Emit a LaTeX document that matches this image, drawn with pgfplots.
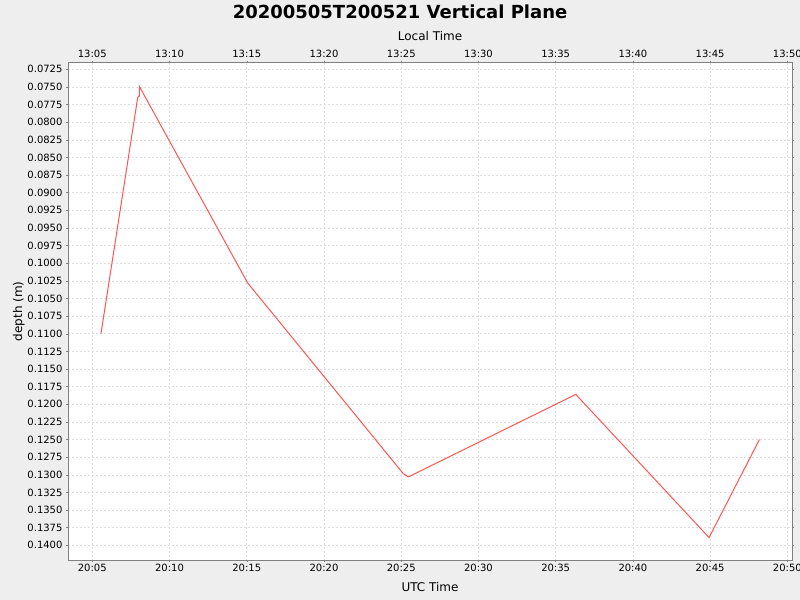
\documentclass[border=0pt]{standalone}
\usepackage{fontspec}
\setmainfont{DejaVu Sans}
\usepackage{pgfplots}
\pgfplotsset{compat=1.18}

\definecolor{bg}{RGB}{238,238,238}
\definecolor{frame}{RGB}{128,128,128}
\definecolor{gridc}{RGB}{222,222,222}
\definecolor{series}{RGB}{255,85,85}

\begin{document}
\begin{tikzpicture}[x=1bp,y=1bp]
  \fill[bg, use as bounding box] (0,0) rectangle (800,600);
  \node[font=\fontsize{18bp}{20bp}\selectfont\bfseries] at (400,588) {20200505T200521 Vertical Plane};

  \pgfplotsset{
    common/.style={
      at={(68bp,40bp)}, anchor=south west,
      scale only axis, width=724bp, height=497.3bp,
      xmin=3.427, xmax=50.30,
      ymin=0.07156, ymax=0.14208, y dir=reverse,
      xtick={5,10,...,50},
      tick align=outside, major tick length=2bp,
      tick style={frame, line width=0.5bp},
      axis line style={frame, line width=0.6bp},
      ticklabel style={font=\fontsize{10bp}{12bp}\selectfont},
      label style={font=\fontsize{12bp}{14bp}\selectfont},
      /pgf/number format/assume math mode=true,
    }
  }

  \begin{axis}[common,
      axis background/.style={fill=white},
      grid=major,
      major grid style={gridc, dash pattern=on 2bp off 2bp, line width=0.6bp},
      xticklabels={20:05,20:10,20:15,20:20,20:25,20:30,20:35,20:40,20:45,20:50},
      xlabel={UTC Time},
      xlabel style={yshift=-3bp},
      ylabel={depth (m)},
      ylabel style={yshift=-4bp},
      ytick={0.0725,0.0750,0.0775,0.0800,0.0825,0.0850,0.0875,0.0900,0.0925,0.0950,0.0975,0.1000,0.1025,0.1050,0.1075,0.1100,0.1125,0.1150,0.1175,0.1200,0.1225,0.1250,0.1275,0.1300,0.1325,0.1350,0.1375,0.1400},
      yticklabel style={/pgf/number format/.cd, fixed, fixed zerofill, precision=4},
      xticklabel style={yshift=1bp},
    ]
    \addplot[series, line width=1bp, line join=miter] coordinates {
      (5.56,0.1100)
      (7.94,0.0765)
      (8.00,0.0763)
      (8.04,0.0763)
      (8.04,0.0749)
      (15.06,0.1028)
      (25.12,0.1298)
      (25.25,0.1300)
      (25.46,0.1303)
      (36.30,0.1186)
      (44.93,0.1389)
      (48.19,0.1250)
    };
  \end{axis}

  \begin{axis}[common,
      axis x line*=top, axis y line=none,
      xticklabels={13:05,13:10,13:15,13:20,13:25,13:30,13:35,13:40,13:45,13:50},
      xlabel={Local Time},
      xlabel style={yshift=2bp},
    ]
  \end{axis}
\end{tikzpicture}
\end{document}
